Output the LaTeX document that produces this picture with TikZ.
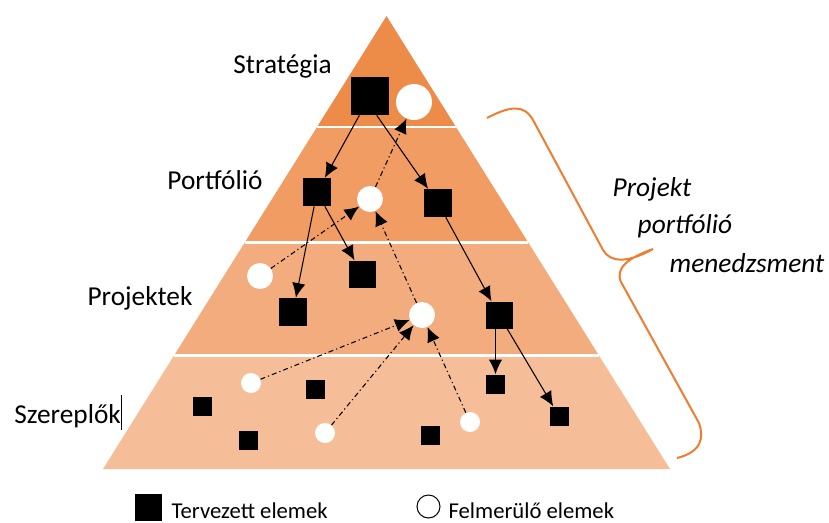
\documentclass[tikz,border=0pt]{standalone}
\usepackage{fontspec}
\setmainfont{Carlito}
\usetikzlibrary{arrows.meta, calc}

\definecolor{bandA}{RGB}{237,140,73}
\definecolor{bandB}{RGB}{240,156,99}
\definecolor{bandC}{RGB}{242,172,125}
\definecolor{bandD}{RGB}{245,190,152}
\definecolor{braceorange}{RGB}{237,125,49}

\begin{document}
\begin{tikzpicture}[x=0.75pt,y=-0.75pt,>={Latex[length=11pt,width=10pt]},
  sq/.style={rectangle,fill=black,inner sep=0pt,minimum size=#1},
  ci/.style={circle,fill=white,inner sep=0pt,minimum size=#1},
  plan/.style={->,line width=0.8pt},
  emerge/.style={->,line width=0.8pt,dash pattern=on 3.75pt off 2.25pt on 0.9pt off 2.25pt},
  lvl/.style={font=\fontsize{20.5}{24}\selectfont,anchor=base},
  ppm/.style={font=\fontsize{20.5}{24}\selectfont\itshape,anchor=base west},
  leg/.style={font=\fontsize{17}{20}\selectfont,anchor=base west,inner sep=1pt}]
\useasboundingbox (0,0) rectangle (829,522);

\coordinate (T) at (386.5,16);
\coordinate (BL) at (103,469);
\coordinate (BR) at (670,469);

% pyramid bands
\foreach \a/\b/\c in {0/.245/bandA,.245/.5/bandB,.5/.75/bandC,.75/1/bandD}
  \fill[\c] ($(T)!\a!(BL)$) -- ($(T)!\b!(BL)$) -- ($(T)!\b!(BR)$) -- ($(T)!\a!(BR)$) -- cycle;
\foreach \f in {.245,.5,.75}
  \draw[white,line width=2pt] ($(T)!\f!(BL)$) -- ($(T)!\f!(BR)$);

% levels
\node[lvl] at (282.5,73) (lS) {Stratégia};
\node[lvl] at (215,189) (lP) {Portfólió};
\node[lvl] at (140,305) (lJ) {Projektek};
\node[lvl] at (68,423) (lZ) {Szereplők\rule[-0.26em]{0.6pt}{1.28em}};

% Strategia
\node[sq=28.5pt] at (370,96) (S1) {};
\node[ci=27pt] at (414,102) (S2) {};
% Portfolio
\node[sq=21pt] at (317,192) (P1) {};
\node[ci=19.5pt] at (370,199) (P2) {};
\node[sq=21pt] at (438,203) (P3) {};
% Projektek
\node[ci=19.5pt] at (260,276) (J1) {};
\node[sq=21pt] at (293,312) (J2) {};
\node[sq=20.25pt] at (362,274) (J3) {};
\node[ci=19.5pt] at (422,315) (J4) {};
\node[sq=20.25pt] at (499,315) (J5) {};
% Szereplok
\foreach \n/\x/\y in {Z1/202/406,Z2/315/389,Z3/248/440,Z4/430.5/435,Z5/495.5/384,Z6/559/416}
  \node[sq=14.25pt] at (\x,\y) (\n) {};
\foreach \n/\x/\y in {Z7/251/383,Z8/325/433,Z9/470/422}
  \node[ci=15pt] at (\x,\y) (\n) {};

\draw[plan] (S1) -- (P1);
\draw[plan] ([xshift=5pt]S1.south) -- (P3);
\draw[plan] (P1) -- (J2);
\draw[plan] (P1) -- (J3);
\draw[plan] (P3) -- (J5);
\draw[plan] (J5.south -| Z5.north) -- (Z5);
\draw[plan] (J5) -- (Z6);

\draw[emerge] (P2) -- (S2);
\draw[emerge] (J1) -- (P2);
\draw[emerge] (J4) -- (P2);
\draw[emerge] (Z7) -- (J4);
\draw[emerge] (Z8) -- (J4);
\draw[emerge] (Z9) -- (J4);

% brace
\draw[braceorange,line width=1.5pt] (487,118) .. controls (510,106) and (524,104) .. (533,120)
  -- (603,250) .. controls (610,262) and (626,264) .. (653,249)
  .. controls (628,258) and (615,268) .. (621,282)
  -- (699,423) .. controls (704,437) and (702,452) .. (677,458);
\node[ppm] at (608,196) (m1) {Projekt};
\node[ppm] at (633,233) (m2) {portfólió};
\node[ppm] at (665,272) (m3) {menedzsment};

% legend
\node[sq=20.25pt] at (148.5,507.5) (L1) {};
\node[leg] at (170,518) (t1) {Tervezett elemek};
\node[ci=17.25pt,draw=black,line width=0.75pt] at (428.5,506.5) (L2) {};
\node[leg] at (447,518) (t2) {Felmerülő elemek};
\end{tikzpicture}
\end{document}
